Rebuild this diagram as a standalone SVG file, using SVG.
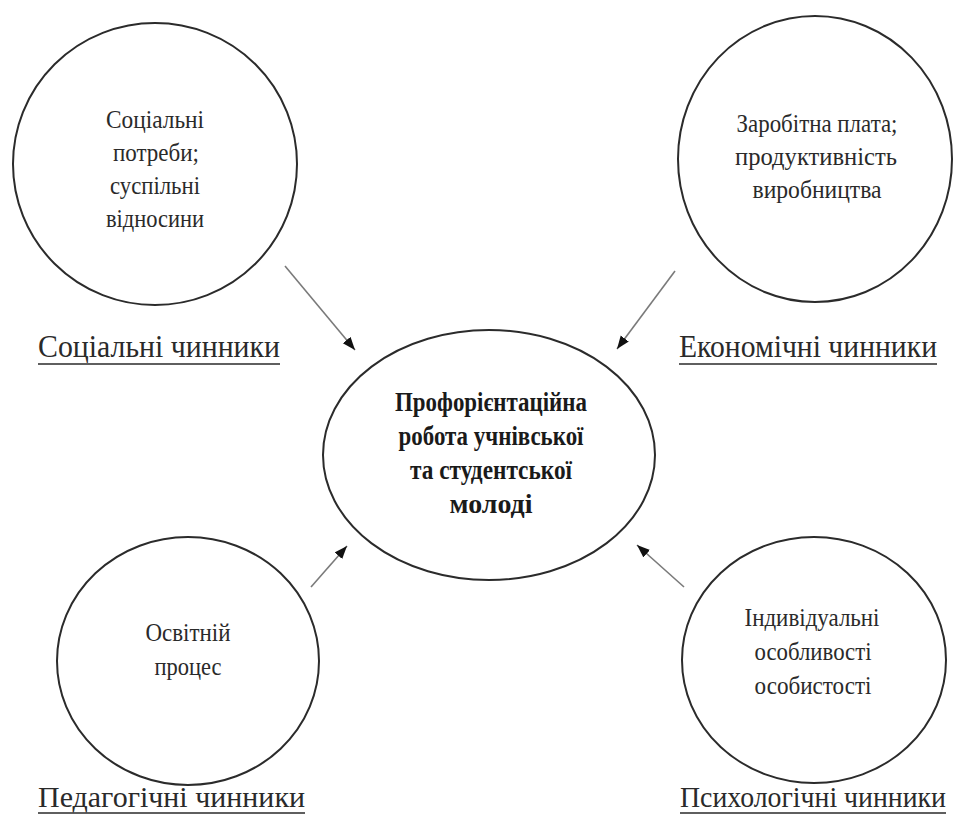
<svg xmlns="http://www.w3.org/2000/svg" width="957" height="821" viewBox="0 0 957 821">
<style>
.node{fill:#fff;stroke:#2b2b2b;stroke-width:2}
.t{font-family:"Liberation Serif","Times New Roman",serif;font-size:26px;fill:#2a2a2a;text-anchor:middle}
.tb{font-family:"Liberation Serif","Times New Roman",serif;font-size:27px;font-weight:bold;fill:#1a1a1a;text-anchor:middle}
.lab{font-family:"Liberation Serif","Times New Roman",serif;font-size:31px;fill:#2a2a2a}
.labr{font-family:"Liberation Serif","Times New Roman",serif;font-size:31px;fill:#2a2a2a;text-anchor:end}
.labs{font-family:"Liberation Serif","Times New Roman",serif;font-size:29px;fill:#2a2a2a}
.ul{stroke:#2a2a2a;stroke-width:1.6}
.conn{stroke:#7a7a7a;stroke-width:1.6;fill:none;marker-end:url(#ah)}
</style>
<defs>
<marker id="ah" markerUnits="userSpaceOnUse" markerWidth="14" markerHeight="12" refX="13" refY="5" orient="auto">
<path d="M0,0 L13,5 L0,10 z" fill="#111"/>
</marker>
</defs>
<rect width="957" height="821" fill="#fff"/>

<g id="connectors">
<line class="conn" x1="285" y1="266" x2="355" y2="350"/>
<line class="conn" x1="675" y1="271" x2="617" y2="349"/>
<line class="conn" x1="311" y1="587" x2="347" y2="546"/>
<line class="conn" x1="684" y1="587" x2="637" y2="545"/>
</g>

<g id="social">
<ellipse class="node" cx="155" cy="164" rx="142" ry="141"/>
<text class="t" x="155" y="128" textLength="98" lengthAdjust="spacingAndGlyphs">Соціальні</text>
<text class="t" x="156" y="161" textLength="86" lengthAdjust="spacingAndGlyphs">потреби;</text>
<text class="t" x="155" y="194" textLength="90" lengthAdjust="spacingAndGlyphs">суспільні</text>
<text class="t" x="155" y="227" textLength="98" lengthAdjust="spacingAndGlyphs">відносини</text>
<text class="lab" x="38" y="357" textLength="242" lengthAdjust="spacingAndGlyphs">Соціальні  чинники</text>
<line class="ul" x1="38" y1="364" x2="280" y2="364"/>
</g>

<g id="economic">
<ellipse class="node" cx="815" cy="159" rx="137" ry="143"/>
<text class="t" x="817" y="132" textLength="161" lengthAdjust="spacingAndGlyphs">Заробітна плата;</text>
<text class="t" x="816" y="165" textLength="162" lengthAdjust="spacingAndGlyphs">продуктивність</text>
<text class="t" x="817" y="198" textLength="129" lengthAdjust="spacingAndGlyphs">виробництва</text>
<text class="labr" x="937" y="357" textLength="258" lengthAdjust="spacingAndGlyphs">Економічні чинники</text>
<line class="ul" x1="679" y1="364" x2="937" y2="364"/>
</g>

<g id="center">
<ellipse class="node" cx="489" cy="455" rx="166" ry="125"/>
<text class="tb" x="491" y="411" textLength="192" lengthAdjust="spacingAndGlyphs">Профорієнтаційна</text>
<text class="tb" x="491" y="445" textLength="185" lengthAdjust="spacingAndGlyphs">робота учнівської</text>
<text class="tb" x="491" y="479" textLength="162" lengthAdjust="spacingAndGlyphs">та студентської</text>
<text class="tb" x="491" y="513" textLength="83" lengthAdjust="spacingAndGlyphs">молоді</text>
</g>

<g id="pedagogical">
<ellipse class="node" cx="188" cy="661" rx="131" ry="124"/>
<text class="t" x="188" y="641" textLength="85" lengthAdjust="spacingAndGlyphs">Освітній</text>
<text class="t" x="188" y="675" textLength="67" lengthAdjust="spacingAndGlyphs">процес</text>
<text class="labs" x="38" y="807" textLength="267" lengthAdjust="spacingAndGlyphs">Педагогічні  чинники</text>
<line class="ul" x1="38" y1="813" x2="305" y2="813"/>
</g>

<g id="psychological">
<ellipse class="node" cx="814" cy="660" rx="132" ry="123"/>
<text class="t" x="812" y="626" textLength="135" lengthAdjust="spacingAndGlyphs">Індивідуальні</text>
<text class="t" x="813" y="660" textLength="117" lengthAdjust="spacingAndGlyphs">особливості</text>
<text class="t" x="813" y="694" textLength="117" lengthAdjust="spacingAndGlyphs">особистості</text>
<text class="labs" x="680" y="807" textLength="266" lengthAdjust="spacingAndGlyphs">Психологічні чинники</text>
<line class="ul" x1="680" y1="813" x2="946" y2="813"/>
</g>
</svg>
